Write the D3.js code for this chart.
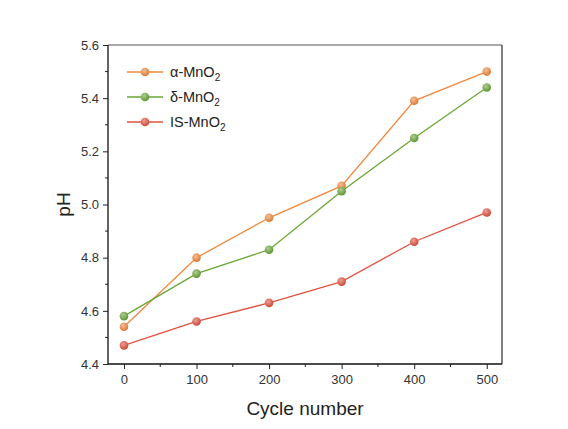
<!DOCTYPE html>
<html>
<head>
<meta charset="utf-8">
<script src="https://cdn.jsdelivr.net/npm/d3@7"></script>
<style>
	body { margin: 0; background: #fff; }
	text { font-family: Arial, "Liberation Sans", sans-serif; }
</style>
</head>
<body>
<svg></svg>
<script>
const svgWidth = 568;
const svgHeight = 429;

const cycles = [0, 100, 200, 300, 400, 500];
const alphaPH = [4.54, 4.80, 4.95, 5.07, 5.39, 5.50];
const deltaPH = [4.58, 4.74, 4.83, 5.05, 5.25, 5.44];
const isPH = [4.47, 4.56, 4.63, 4.71, 4.86, 4.97];
const seriesNames = ["α-MnO", "δ-MnO", "IS-MnO"];
const xTicks = [0, 100, 200, 300, 400, 500];
const yTicks = [4.4, 4.6, 4.8, 5.0, 5.2, 5.4, 5.6];

const colors = ["#f0883c", "#6aa637", "#e2513f"];
const series = [alphaPH, deltaPH, isPH];

const plotLeft = 108, plotRight = 502, plotTop = 45, plotBottom = 364;

const svg = d3.select("svg")
	.attr("width", svgWidth)
	.attr("height", svgHeight);

const xScale = d3.scaleLinear()
	.domain([-22, 521])
	.range([plotLeft, plotRight]);
const yScale = d3.scaleLinear()
	.domain([4.4, 5.6])
	.range([plotBottom, plotTop]);

// gradients for shaded markers
const defs = svg.append("defs");
colors.forEach((c, i) => {
	let g = defs.append("radialGradient")
		.attr("id", "grad" + i)
		.attr("cx", "40%").attr("cy", "35%").attr("r", "65%");
	g.append("stop").attr("offset", "0%").attr("stop-color", d3.interpolateRgb(c, "#fff")(0.45));
	g.append("stop").attr("offset", "100%").attr("stop-color", d3.color(c).darker(0.3));
});

// frame top / right
svg.append("line")
	.attr("x1", plotLeft).attr("x2", plotRight).attr("y1", plotTop).attr("y2", plotTop)
	.attr("stroke", "#555").attr("stroke-width", 1.2);
svg.append("line")
	.attr("x1", plotRight).attr("x2", plotRight).attr("y1", plotTop).attr("y2", plotBottom)
	.attr("stroke", "#555").attr("stroke-width", 1.5);

// minor ticks
let xMinor = d3.range(50, 500, 100);
let yMinor = d3.range(4.5, 5.6, 0.2);
svg.selectAll(".xminor")
	.data(xMinor)
	.enter()
	.append("line")
	.attr("x1", d => xScale(d)).attr("x2", d => xScale(d))
	.attr("y1", plotBottom).attr("y2", plotBottom + 3)
	.attr("stroke", "#222");
svg.selectAll(".yminor")
	.data(yMinor)
	.enter()
	.append("line")
	.attr("x1", plotLeft).attr("x2", plotLeft - 3)
	.attr("y1", d => yScale(d)).attr("y2", d => yScale(d))
	.attr("stroke", "#222");

let xAxis = d3.axisBottom(xScale)
	.tickValues(xTicks)
	.tickSize(5)
	.tickSizeOuter(0)
	.tickPadding(6);
let yAxis = d3.axisLeft(yScale)
	.tickValues(yTicks)
	.tickFormat(d3.format(".1f"))
	.tickSize(5)
	.tickSizeOuter(0)
	.tickPadding(4);

let gx = svg.append("g")
	.attr("transform", `translate(0, ${plotBottom})`)
	.call(xAxis);
let gy = svg.append("g")
	.attr("transform", `translate(${plotLeft}, 0)`)
	.call(yAxis);

[gx, gy].forEach(g => {
	g.select(".domain").attr("stroke", "#111").attr("stroke-width", 1.3);
	g.selectAll(".tick line").attr("stroke", "#222");
	g.selectAll(".tick text")
		.attr("font-size", "13px")
		.attr("fill", "#333")
		.style("font-family", "Arial, 'Liberation Sans', sans-serif");
});
gx.select(".domain").attr("d", `M${plotLeft},0H${plotRight}`);
gy.select(".domain").attr("d", `M0,${plotTop}V${plotBottom}`);

// Data lines
let line = d3.line()
	.x((d, i) => xScale(cycles[i]))
	.y(d => yScale(d));

series.forEach((s, k) => {
	svg.append("path")
		.datum(s)
		.attr("d", line)
		.attr("fill", "none")
		.attr("stroke", colors[k])
		.attr("stroke-width", 1.3);
	svg.selectAll(".pt" + k)
		.data(s)
		.enter()
		.append("circle")
		.attr("cx", (d, i) => xScale(cycles[i]))
		.attr("cy", d => yScale(d))
		.attr("r", 4.3)
		.attr("fill", `url(#grad${k})`);
});

// Legend
let legend = svg.selectAll(".legend")
	.data(seriesNames)
	.enter()
	.append("g")
	.attr("transform", (d, i) => `translate(127, ${72 + i * 25})`);

legend.append("line")
	.attr("x1", 0).attr("x2", 36)
	.attr("stroke", (d, i) => colors[i])
	.attr("stroke-width", 1.3);
legend.append("circle")
	.attr("cx", 18)
	.attr("r", 4.3)
	.attr("fill", (d, i) => `url(#grad${i})`);
let lt = legend.append("text")
	.attr("x", 43)
	.attr("dy", "0.35em")
	.attr("font-size", "14.5px")
	.attr("fill", "#222");
lt.append("tspan").text(d => d);
lt.append("tspan").text("2").attr("font-size", "10px").attr("dy", "4");

// Axes labels
svg.append("text")
	.text("Cycle number")
	.attr("x", (plotLeft + plotRight) / 2)
	.attr("y", 415)
	.attr("font-size", "19px")
	.attr("fill", "#222")
	.attr("text-anchor", "middle");

svg.append("text")
	.text("pH")
	.attr("transform", "rotate(-90)")
	.attr("x", -(plotTop + plotBottom) / 2)
	.attr("y", 70)
	.attr("font-size", "19px")
	.attr("fill", "#222")
	.attr("text-anchor", "middle");
</script>
</body>
</html>
